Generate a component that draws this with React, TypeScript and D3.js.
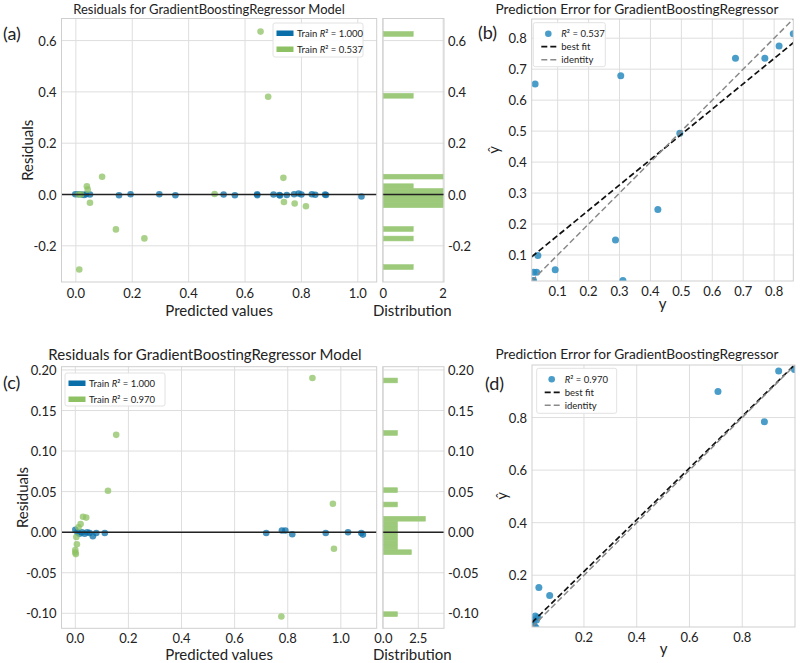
import React from "react";
import * as d3 from "d3";

// ---------- Panel (a): residuals ----------
const aTrainX = [-0.002, 0.009, 0.021, 0.029, 0.036, 0.05, 0.153, 0.194, 0.296, 0.353, 0.524, 0.564, 0.643, 0.643, 0.701, 0.722, 0.724, 0.748, 0.774, 0.79, 0.8, 0.837, 0.849, 0.884, 0.887, 1.013];
const aTrainRes = [0.001, 0.001, 0.0, -0.002, 0.001, 0.0, -0.003, 0.001, 0.001, -0.003, 0.0, -0.003, 0.001, -0.003, 0.0, -0.002, -0.004, -0.002, 0.001, 0.004, 0.0, 0.001, -0.001, 0.0, -0.002, -0.008];
const aTestX = [0.655, 0.682, 0.093, 0.736, 0.039, 0.042, 0.05, 0.738, 0.776, 0.816, 0.142, 0.243, 0.012, 0.492, 0.009, 0.019];
const aTestRes = [0.635, 0.381, 0.069, 0.065, 0.032, 0.019, -0.032, -0.029, -0.035, -0.046, -0.136, -0.171, -0.292, 0.002, 0.0, 0.0];
const aHistLow = [-0.292, -0.1808, -0.1437, -0.051, -0.0324, -0.0139, 0.0046, 0.0232, 0.0603, 0.3754, 0.6165];
const aHistCount = [1, 1, 1, 2, 2, 2, 2, 1, 2, 1, 1];
const aHistBinWidth = 0.01854;
const aXTicks = [0, 0.2, 0.4, 0.6, 0.8, 1.0];
const aYTicks = [-0.2, 0, 0.2, 0.4, 0.6];
const aHistTicks = [0, 2];
const aTrainLabel = "1.000";
const aTestLabel = "0.537";

// ---------- Panel (b): prediction error ----------
const bY = [0.027, 0.304, 0.675, 0.77, 0.816, 0.862, 0.495, 0.424, 0.287, 0.311, 0.092, 0.036, 0.032, 0.022, 0.022, 0.018];
const bYhat = [0.652, 0.679, 0.735, 0.735, 0.775, 0.814, 0.493, 0.247, 0.148, 0.018, 0.052, 0.098, 0.044, 0.044, 0.018, 0.016];
const bFit = { slope: 0.817, intercept: 0.081 };
const bTicks = [0.1, 0.2, 0.3, 0.4, 0.5, 0.6, 0.7, 0.8];
const bR2 = "0.537";

// ---------- Panel (c): residuals ----------
const cTrainX = [0.0, 0.008, 0.016, 0.025, 0.035, 0.045, 0.054, 0.066, 0.079, 0.111, 0.719, 0.778, 0.791, 0.817, 0.943, 1.027, 1.077, 1.083];
const cTrainRes = [0.003, 0.0, -0.002, 0.0, -0.002, 0.0, -0.001, -0.005, -0.001, -0.001, -0.001, 0.002, 0.002, -0.0025, -0.001, 0.0, -0.001, -0.003];
const cTestX = [0.893, 0.154, 0.123, 0.97, 0.974, 0.776, 0.029, 0.041, 0.02, 0.012, 0.004, 0.006, 0.0, 0.0, 0.002];
const cTestRes = [0.19, 0.12, 0.051, 0.035, -0.0205, -0.104, 0.019, 0.018, 0.01, 0.006, -0.006, -0.015, -0.022, -0.025, -0.027];
const cHistLow = [-0.104, -0.0276, -0.0217, -0.0158, -0.0099, -0.0041, 0.0018, 0.0077, 0.0136, 0.0312, 0.0489, 0.1194, 0.1841];
const cHistCount = [1, 2, 1, 1, 1, 1, 1, 1, 3, 1, 1, 1, 1];
const cHistBinWidth = 0.00588;
const cXTicks = [0, 0.2, 0.4, 0.6, 0.8, 1.0];
const cYTicks = [-0.1, -0.05, 0, 0.05, 0.1, 0.15, 0.2];
const cHistTicks = [0, 2.5];
const cTrainLabel = "1.000";
const cTestLabel = "0.970";

// ---------- Panel (d): prediction error ----------
const dY = [0.938, 0.998, 0.708, 0.884, 0.029, 0.07, 0.005, 0.01, 0.02, 0.025, 0.012, 0.008, 0.018, 0.004, 0.015];
const dYhat = [0.977, 0.983, 0.899, 0.784, 0.153, 0.123, 0.02, 0.03, 0.03, 0.04, 0.008, 0.005, 0.0, 0.003, 0.045];
const dFit = { slope: 0.985, intercept: 0.017 };
const dTicks = [0.2, 0.4, 0.6, 0.8];
const dR2 = "0.970";

const FONT = "Lato, 'Open Sans', sans-serif";
const GRID = "#dedede";
const FRAME = "#cfcfcf";
const BLUE = "#0a6fa8";
const GREEN = "#8dc163";
const HIST_GREEN = "#9cc97a";
const PE_BLUE = "#2a8cc0";
const TXT = "#222";

type ResProps = {
  frame: { left: number; right: number; top: number; bottom: number; hLeft: number; hRight: number };
  xDomain: [number, number];
  yDomain: [number, number];
  hDomain: [number, number];
  xTicks: number[];
  yTicks: number[];
  hTicks: number[];
  yFmt: (v: number) => string;
  hFmt: (v: number) => string;
  trainX: number[];
  trainRes: number[];
  testX: number[];
  testRes: number[];
  histLow: number[];
  histCount: number[];
  binW: number;
  title: string;
  titleX: number;
  titleY: number;
  titleSize: number;
  tag: string;
  tagX: number;
  tagY: number;
  legend: { x: number; y: number; w: number; h: number };
  trainLabel: string;
  testLabel: string;
  tickBaseline: number;
  labelBaseline: number;
  yLabelX: number;
};

function R2Text({ value }: { value: string }) {
  return (
    <>
      <tspan>Train </tspan>
      <tspan fontStyle="italic">R</tspan>
      <tspan>² = {value}</tspan>
    </>
  );
}

function ResidualPanel(p: ResProps) {
  const f = p.frame;
  const x = d3.scaleLinear().domain(p.xDomain).range([f.left, f.right]);
  const y = d3.scaleLinear().domain(p.yDomain).range([f.bottom, f.top]);
  const hx = d3.scaleLinear().domain(p.hDomain).range([f.hLeft, f.hRight]);
  const lg = p.legend;
  return (
    <g fontFamily={FONT} fill={TXT}>
      {p.xTicks.map((t) => (
        <line key={"gx" + t} x1={x(t)} x2={x(t)} y1={f.top} y2={f.bottom} stroke={GRID} strokeWidth={1} />
      ))}
      {p.yTicks.map((t) => (
        <line key={"gy" + t} x1={f.left} x2={f.right} y1={y(t)} y2={y(t)} stroke={GRID} strokeWidth={1} />
      ))}
      {p.trainX.map((v, i) => (
        <circle key={"tr" + i} cx={x(v)} cy={y(p.trainRes[i])} r={3.3} fill={BLUE} fillOpacity={0.75} />
      ))}
      {p.testX.map((v, i) => (
        <circle key={"te" + i} cx={x(v)} cy={y(p.testRes[i])} r={3.3} fill={GREEN} fillOpacity={0.75} />
      ))}
      <line x1={f.left} x2={f.right} y1={y(0)} y2={y(0)} stroke="#222" strokeWidth={1.4} />
      <rect x={f.left} y={f.top} width={f.right - f.left} height={f.bottom - f.top} fill="none" stroke={FRAME} strokeWidth={1} />
      {/* legend */}
      <rect x={lg.x} y={lg.y} width={lg.w} height={lg.h} fill="#fff" fillOpacity={0.9} stroke="#e2e2e2" rx={2} />
      <rect x={lg.x + 3.5} y={lg.y + 7.5} width={17} height={5.5} fill={BLUE} />
      <rect x={lg.x + 3.5} y={lg.y + 23.5} width={17} height={5.5} fill={GREEN} />
      <text x={lg.x + 24} y={lg.y + 13.6} fontSize={9.5}>
        <R2Text value={p.trainLabel} />
      </text>
      <text x={lg.x + 24} y={lg.y + 29.6} fontSize={9.5}>
        <R2Text value={p.testLabel} />
      </text>
      {/* histogram */}
      {p.hTicks.map((t) => (
        <line key={"hx" + t} x1={hx(t)} x2={hx(t)} y1={f.top} y2={f.bottom} stroke={GRID} strokeWidth={1} />
      ))}
      {p.yTicks.map((t) => (
        <line key={"hy" + t} x1={f.hLeft} x2={f.hRight} y1={y(t)} y2={y(t)} stroke={GRID} strokeWidth={1} />
      ))}
      {p.histLow.map((lo, i) => (
        <rect
          key={"hb" + i}
          x={hx(0)}
          y={y(lo + p.binW)}
          width={hx(p.histCount[i]) - hx(0)}
          height={y(lo) - y(lo + p.binW)}
          fill={HIST_GREEN}
          stroke={HIST_GREEN}
          strokeWidth={0.6}
        />
      ))}
      <line x1={f.hLeft} x2={f.hRight} y1={y(0)} y2={y(0)} stroke="#222" strokeWidth={1.4} />
      <rect x={f.hLeft} y={f.top} width={f.hRight - f.hLeft} height={f.bottom - f.top} fill="none" stroke={FRAME} strokeWidth={1} />
      {/* ticks */}
      {p.xTicks.map((t) => (
        <text key={"tx" + t} x={x(t)} y={p.tickBaseline} fontSize={13} textAnchor="middle">
          {d3.format(".1f")(t)}
        </text>
      ))}
      {p.yTicks.map((t) => (
        <text key={"ty" + t} x={f.left - 5} y={y(t)} fontSize={13} textAnchor="end" dominantBaseline="central">
          {p.yFmt(t)}
        </text>
      ))}
      {p.yTicks.map((t) => (
        <text key={"tyr" + t} x={f.hRight + 4} y={y(t)} fontSize={13} textAnchor="start" dominantBaseline="central">
          {p.yFmt(t)}
        </text>
      ))}
      {p.hTicks.map((t) => (
        <text key={"th" + t} x={hx(t)} y={p.tickBaseline} fontSize={13} textAnchor="middle">
          {p.hFmt(t)}
        </text>
      ))}
      <text x={(f.left + f.right) / 2} y={p.labelBaseline} fontSize={15} textAnchor="middle">
        Predicted values
      </text>
      <text x={(f.hLeft + f.hRight) / 2 - 1} y={p.labelBaseline} fontSize={15} textAnchor="middle">
        Distribution
      </text>
      <text
        transform={`translate(${p.yLabelX},${(f.top + f.bottom) / 2}) rotate(-90)`}
        fontSize={15}
        textAnchor="middle"
        dominantBaseline="central"
      >
        Residuals
      </text>
      <text x={p.titleX} y={p.titleY} fontSize={p.titleSize} textAnchor="middle">
        {p.title}
      </text>
      <text x={p.tagX} y={p.tagY} fontSize={18}>
        {p.tag}
      </text>
    </g>
  );
}

type PEProps = {
  frame: { left: number; right: number; top: number; bottom: number };
  domain: [number, number];
  ticks: number[];
  ys: number[];
  yhats: number[];
  fit: { slope: number; intercept: number };
  r2: string;
  title: string;
  titleX: number;
  titleY: number;
  titleSize: number;
  tag: string;
  tagX: number;
  tagY: number;
  legend: { x: number; y: number; w: number; h: number };
  tickBaseline: number;
  labelBaseline: number;
  yLabelX: number;
};

function PredErrorPanel(p: PEProps) {
  const f = p.frame;
  const x = d3.scaleLinear().domain(p.domain).range([f.left, f.right]);
  const y = d3.scaleLinear().domain(p.domain).range([f.bottom, f.top]);
  const [d0, d1] = p.domain;
  const line = d3
    .line<number>()
    .x((v) => x(v))
    .y((v) => y(p.fit.slope * v + p.fit.intercept));
  const fitPts = [d0, Math.min(d1, (d1 - p.fit.intercept) / p.fit.slope)];
  const lg = p.legend;
  const clipId = "clip" + p.tag.replace(/[()]/g, "");
  return (
    <g fontFamily={FONT} fill={TXT}>
      <defs>
        <clipPath id={clipId}>
          <rect x={f.left} y={f.top} width={f.right - f.left} height={f.bottom - f.top} />
        </clipPath>
      </defs>
      {p.ticks.map((t) => (
        <line key={"gx" + t} x1={x(t)} x2={x(t)} y1={f.top} y2={f.bottom} stroke={GRID} strokeWidth={1} />
      ))}
      {p.ticks.map((t) => (
        <line key={"gy" + t} x1={f.left} x2={f.right} y1={y(t)} y2={y(t)} stroke={GRID} strokeWidth={1} />
      ))}
      <g clipPath={`url(#${clipId})`}>
        {p.ys.map((v, i) => (
          <circle key={"p" + i} cx={x(v)} cy={y(p.yhats[i])} r={3.5} fill={PE_BLUE} fillOpacity={0.85} />
        ))}
        <path d={line(fitPts) || ""} fill="none" stroke="#111" strokeWidth={1.7} strokeDasharray="6,3" />
        <line x1={x(d0)} y1={y(d0)} x2={x(d1)} y2={y(d1)} stroke="#8a8a8a" strokeWidth={1.5} strokeDasharray="6,3" />
      </g>
      <rect x={f.left} y={f.top} width={f.right - f.left} height={f.bottom - f.top} fill="none" stroke={FRAME} strokeWidth={1} />
      {/* legend */}
      <rect x={lg.x} y={lg.y} width={lg.w} height={lg.h} fill="#fff" fillOpacity={0.9} stroke="#e2e2e2" rx={2} />
      <circle cx={lg.x + 15} cy={lg.y + 11} r={3.3} fill={PE_BLUE} fillOpacity={0.85} />
      <text x={lg.x + 28} y={lg.y + 14.3} fontSize={9.5}>
        <tspan fontStyle="italic">R</tspan>
        <tspan>² = {p.r2}</tspan>
      </text>
      <line x1={lg.x + 8} x2={lg.x + 24} y1={lg.y + 24} y2={lg.y + 24} stroke="#111" strokeWidth={1.7} strokeDasharray="6,3" />
      <text x={lg.x + 28} y={lg.y + 27.3} fontSize={9.5}>
        best fit
      </text>
      <line x1={lg.x + 8} x2={lg.x + 24} y1={lg.y + 37} y2={lg.y + 37} stroke="#8a8a8a" strokeWidth={1.5} strokeDasharray="6,3" />
      <text x={lg.x + 28} y={lg.y + 40.3} fontSize={9.5}>
        identity
      </text>
      {p.ticks.map((t) => (
        <text key={"tx" + t} x={x(t)} y={p.tickBaseline} fontSize={13} textAnchor="middle">
          {d3.format(".1f")(t)}
        </text>
      ))}
      {p.ticks.map((t) => (
        <text key={"ty" + t} x={f.left - 5} y={y(t)} fontSize={13} textAnchor="end" dominantBaseline="central">
          {d3.format(".1f")(t)}
        </text>
      ))}
      <text x={(f.left + f.right) / 2} y={p.labelBaseline} fontSize={15} textAnchor="middle">
        y
      </text>
      <text
        transform={`translate(${p.yLabelX},${(f.top + f.bottom) / 2}) rotate(-90)`}
        fontSize={15}
        textAnchor="middle"
        dominantBaseline="central"
      >
        ŷ
      </text>
      <text x={p.titleX} y={p.titleY} fontSize={p.titleSize} textAnchor="middle">
        {p.title}
      </text>
      <text x={p.tagX} y={p.tagY} fontSize={18}>
        {p.tag}
      </text>
    </g>
  );
}

export default function App() {
  const f2 = (v: number) => d3.format(".2f")(v);
  const f1 = (v: number) => d3.format(".1f")(v);
  const hyphen = (s: string) => s.replace("−", "-");
  return (
    <div style={{ position: "absolute", left: 0, top: 0 }}>
      <svg width={800} height={663} style={{ display: "block", background: "#fff" }}>
        <ResidualPanel
          frame={{ left: 61.5, right: 376.7, top: 18.5, bottom: 282, hLeft: 382.7, hRight: 444 }}
          xDomain={[-0.051, 1.067]}
          yDomain={[-0.341, 0.686]}
          hDomain={[-0.02, 2.03]}
          xTicks={aXTicks}
          yTicks={aYTicks}
          hTicks={aHistTicks}
          yFmt={(v) => hyphen(f1(v))}
          hFmt={(v) => d3.format("d")(v)}
          trainX={aTrainX}
          trainRes={aTrainRes}
          testX={aTestX}
          testRes={aTestRes}
          histLow={aHistLow}
          histCount={aHistCount}
          binW={aHistBinWidth}
          title="Residuals for GradientBoostingRegressor Model"
          titleX={209}
          titleY={14}
          titleSize={13}
          tag="(a)"
          tagX={3}
          tagY={40}
          legend={{ x: 273, y: 23, w: 90, h: 34 }}
          trainLabel={aTrainLabel}
          testLabel={aTestLabel}
          tickBaseline={298}
          labelBaseline={316}
          yLabelX={27}
        />
        <PredErrorPanel
          frame={{ left: 531.7, right: 793.3, top: 19, bottom: 281 }}
          domain={[0.016, 0.862]}
          ticks={bTicks}
          ys={bY}
          yhats={bYhat}
          fit={bFit}
          r2={bR2}
          title="Prediction Error for GradientBoostingRegressor"
          titleX={637}
          titleY={14}
          titleSize={13.7}
          tag="(b)"
          tagX={478}
          tagY={39}
          legend={{ x: 533.3, y: 22.7, w: 72, h: 44 }}
          tickBaseline={296}
          labelBaseline={309}
          yLabelX={493}
        />
        <ResidualPanel
          frame={{ left: 61.5, right: 376.7, top: 366.7, bottom: 628.3, hLeft: 382.7, hRight: 444 }}
          xDomain={[-0.052, 1.135]}
          yDomain={[-0.1185, 0.204]}
          hDomain={[-0.05, 4.34]}
          xTicks={cXTicks}
          yTicks={cYTicks}
          hTicks={cHistTicks}
          yFmt={(v) => hyphen(f2(v))}
          hFmt={(v) => d3.format(".1f")(v)}
          trainX={cTrainX}
          trainRes={cTrainRes}
          testX={cTestX}
          testRes={cTestRes}
          histLow={cHistLow}
          histCount={cHistCount}
          binW={cHistBinWidth}
          title="Residuals for GradientBoostingRegressor Model"
          titleX={205}
          titleY={360}
          titleSize={15}
          tag="(c)"
          tagX={3}
          tagY={389}
          legend={{ x: 65, y: 373, w: 100, h: 33 }}
          trainLabel={cTrainLabel}
          testLabel={cTestLabel}
          tickBaseline={643}
          labelBaseline={660}
          yLabelX={22}
        />
        <PredErrorPanel
          frame={{ left: 532, right: 795, top: 365, bottom: 627 }}
          domain={[0.003, 1.0]}
          ticks={dTicks}
          ys={dY}
          yhats={dYhat}
          fit={dFit}
          r2={dR2}
          title="Prediction Error for GradientBoostingRegressor"
          titleX={637}
          titleY={359}
          titleSize={13.7}
          tag="(d)"
          tagX={485}
          tagY={390}
          legend={{ x: 536.7, y: 368.3, w: 80, h: 45 }}
          tickBaseline={642}
          labelBaseline={654}
          yLabelX={501}
        />
      </svg>
    </div>
  );
}
